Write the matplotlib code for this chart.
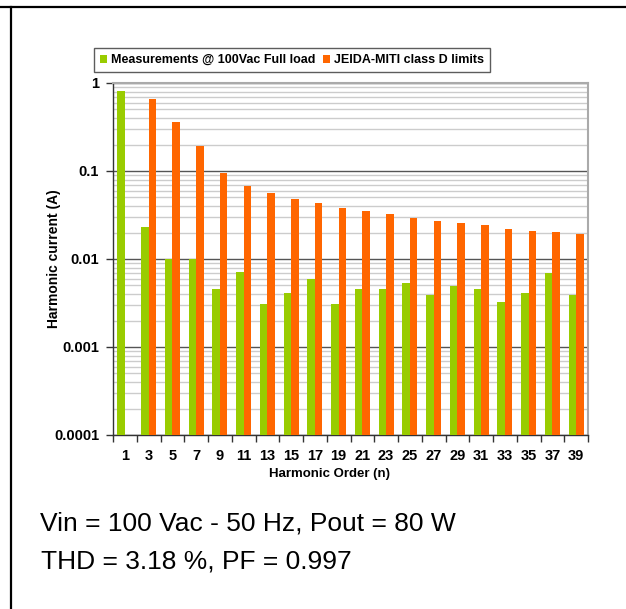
import numpy as np
import matplotlib
matplotlib.use("Agg")
import matplotlib.pyplot as plt
from matplotlib.lines import Line2D
from matplotlib.ticker import FixedLocator, NullFormatter, LogLocator

orders = [1, 3, 5, 7, 9, 11, 13, 15, 17, 19, 21, 23, 25, 27, 29, 31, 33, 35, 37, 39]
measured = [0.81, 0.0233, 0.0099, 0.0099, 0.00456, 0.0071, 0.00308, 0.0041, 0.00593, 0.00308,
            0.00456, 0.00456, 0.00533, 0.0039, 0.00497, 0.00456, 0.00325, 0.0041, 0.0070, 0.0039]
limits = [np.nan, 0.658, 0.36, 0.192, 0.0949, 0.0676, 0.0562, 0.048, 0.0433, 0.038,
          0.0351, 0.0325, 0.0292, 0.027, 0.0256, 0.0243, 0.0219, 0.0208, 0.0203, 0.0192]
ytick_vals = [0.0001, 0.001, 0.01, 0.1, 1]
ytick_labels = ["0.0001", "0.001", "0.01", "0.1", "1"]
series_names = ["Measurements @ 100Vac Full load", "JEIDA-MITI class D limits"]

plt.rcParams['font.family'] = ['Liberation Sans', 'DejaVu Sans']

W, H = 626, 609
fig = plt.figure(figsize=(W / 100, H / 100), dpi=100)
ax = fig.add_axes([113 / W, 1 - 435 / H, 475 / W, 352 / H])

x = np.arange(len(orders))
w = 0.32
ax.bar(x - w / 2, measured, width=w, color='#99CC00', label=series_names[0], zorder=3)
ax.bar(x + w / 2, limits, width=w, color='#FF6600', label=series_names[1], zorder=3)

ax.set_yscale('log')
ax.set_ylim(0.0001, 1)
ax.set_xlim(-0.5, len(orders) - 0.5)

ax.yaxis.set_major_locator(FixedLocator(ytick_vals))
ax.set_yticklabels(ytick_labels, fontweight='bold', fontsize=10.5)
ax.yaxis.set_minor_locator(LogLocator(base=10, subs=np.arange(2, 10)))
ax.yaxis.set_minor_formatter(NullFormatter())
ax.tick_params(axis='y', which='major', length=5, width=1, color='#333333', pad=5)
ax.tick_params(axis='y', which='minor', length=0)

ax.set_xticks(x)
ax.set_xticklabels([str(o) for o in orders], fontweight='bold', fontsize=10.5)
ax.xaxis.set_minor_locator(FixedLocator(np.arange(-0.5, len(orders), 1.0)))
ax.tick_params(axis='x', which='major', length=0, pad=10)
ax.tick_params(axis='x', which='minor', length=5, width=1, color='#333333')

ax.grid(True, axis='y', which='major', color='#555555', linewidth=1.0, zorder=0)
ax.grid(True, axis='y', which='minor', color='#cccccc', linewidth=1.0, zorder=0)
ax.set_axisbelow(True)

for s in ['left', 'bottom']:
    ax.spines[s].set_color('#333333')
    ax.spines[s].set_linewidth(1.0)
for s in ['top', 'right']:
    ax.spines[s].set_color('#aaaaaa')
    ax.spines[s].set_linewidth(1.5)

ax.set_ylabel("Harmonic current (A)", fontweight='bold', fontsize=10)
ax.yaxis.set_label_coords(-0.11, 0.5)
ax.set_xlabel("Harmonic Order (n)", fontweight='bold', fontsize=9.5, labelpad=1)
ax.xaxis.set_label_coords(0.455, -0.095)

leg = ax.legend(loc='center', bbox_to_anchor=((292 - 113) / 475, (435 - 60) / 352),
                ncol=2, prop={'weight': 'bold', 'size': 9},
                handlelength=0.6, handleheight=0.6, handletextpad=0.3, columnspacing=0.6,
                frameon=True, fancybox=False, borderpad=0.5, borderaxespad=0)
leg.get_frame().set_edgecolor('#333333')
leg.get_frame().set_linewidth(1.0)

fig.text(40 / W, 1 - 524 / H, "Vin = 100 Vac - 50 Hz, Pout = 80 W", fontsize=19,
         ha='left', va='center')
fig.text(41 / W, 1 - 561 / H, "THD = 3.18 %, PF = 0.997", fontsize=19,
         ha='left', va='center')

fig.add_artist(Line2D([0, 1], [1 - 7 / H, 1 - 7 / H], transform=fig.transFigure,
                      color='black', linewidth=1.6))
fig.add_artist(Line2D([11 / W, 11 / W], [0, 1 - 7 / H], transform=fig.transFigure,
                      color='black', linewidth=1.6))

fig.savefig("out.png", dpi=100)
